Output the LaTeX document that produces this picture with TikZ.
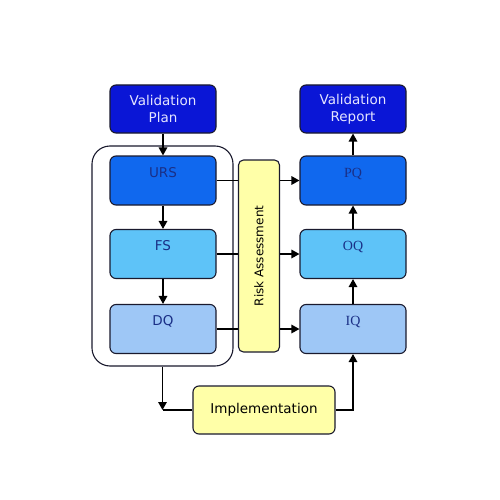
\documentclass[tikz,border=0pt]{standalone}
\usepackage{fontspec}
\usepackage{tikz}
\usetikzlibrary{positioning,arrows.meta}
\newfontfamily\verd{DejaVu Sans}
\newfontfamily\tms{Liberation Serif}
\definecolor{planblue}{HTML}{0A16D6}
\definecolor{ursblue}{HTML}{1068EE}
\definecolor{fsblue}{HTML}{5EC3F8}
\definecolor{dqblue}{HTML}{9EC7F6}
\definecolor{riskyel}{HTML}{FFFFA8}
\definecolor{navy}{HTML}{1A2F86}
\definecolor{edge}{HTML}{1A1A2E}

\begin{document}
\begin{tikzpicture}[x=1pt,y=-1pt]
		\tikzstyle{box}=[draw=edge, line width=1.1pt, rounded corners=6pt, minimum width=106pt, minimum height=49pt, inner sep=0pt, font=\verd\fontsize{13.5}{17}\selectfont, text=navy, align=center]
		\tikzstyle{low}=[text height=9.5pt, text depth=16.5pt]
		\tikzstyle{arr}=[line width=1.5pt, -{Triangle[length=8pt,width=8.5pt]}]
		\tikzstyle{ln}=[line width=1.5pt]
		\useasboundingbox (0,0) rectangle (500,500);
		\fill [white] (0,0) rectangle (500,500);
		% left column
		\node [box, fill=planblue, text=white!90!blue, minimum height=48pt] (plan) at (163,109) {Validation\\Plan};
		\node [draw=edge, line width=1.1pt, rounded corners=18pt, minimum width=141pt, minimum height=220pt] (grp) at (162.5,256) {};
		\node [box, low, fill=ursblue] (urs) at (163,180.5) {URS};
		\node [box, low, fill=fsblue] (fs) at (163,254) {FS};
		\node [box, low, fill=dqblue] (dq) at (163,329) {DQ};
		% right column
		\node [box, fill=planblue, text=white!90!blue, minimum height=48pt] (report) at (353,109) {Validation\\Report};
		\node [box, low, fill=ursblue, font=\tms\fontsize{14}{17}\selectfont] (pq) at (353,180.5) {PQ};
		\node [box, low, fill=fsblue, font=\tms\fontsize{14}{17}\selectfont] (oq) at (353,254) {OQ};
		\node [box, low, fill=dqblue, font=\tms\fontsize{14}{17}\selectfont] (iq) at (353,329) {IQ};
		\node [box, fill=riskyel, text=black, minimum width=142pt, minimum height=48pt] (impl) at (264,410) {Implementation};
		\coordinate (turn) at (162.5,410);
		% connectors
		\draw [arr] (plan) -- (urs);
		\draw [arr] (urs) -- (fs);
		\draw [arr] (fs) -- (dq);
		\draw [arr] (iq) -- (oq);
		\draw [arr] (oq) -- (pq);
		\draw [arr] (pq) -- (report);
		\draw [arr] (urs.east) -- (pq.west);
		\draw [arr] (fs.east) -- (oq.west);
		\draw [arr] (dq.east) -- (iq.west);
		\draw [arr] (grp.south) -- (turn);
		\draw [ln] (turn) -- (impl.west);
		\draw [arr] (impl.east) -| (iq.south);
		% risk assessment on top of the lines
		\node [box, fill=riskyel, text=black, minimum width=41pt, minimum height=192pt, rounded corners=5pt] (risk) at (259,256) {};
		\node [rotate=90, font=\verd\fontsize{12}{14}\selectfont, inner sep=0pt] (risklbl) at (risk.center) {Risk Assessment};
\end{tikzpicture}
\end{document}
